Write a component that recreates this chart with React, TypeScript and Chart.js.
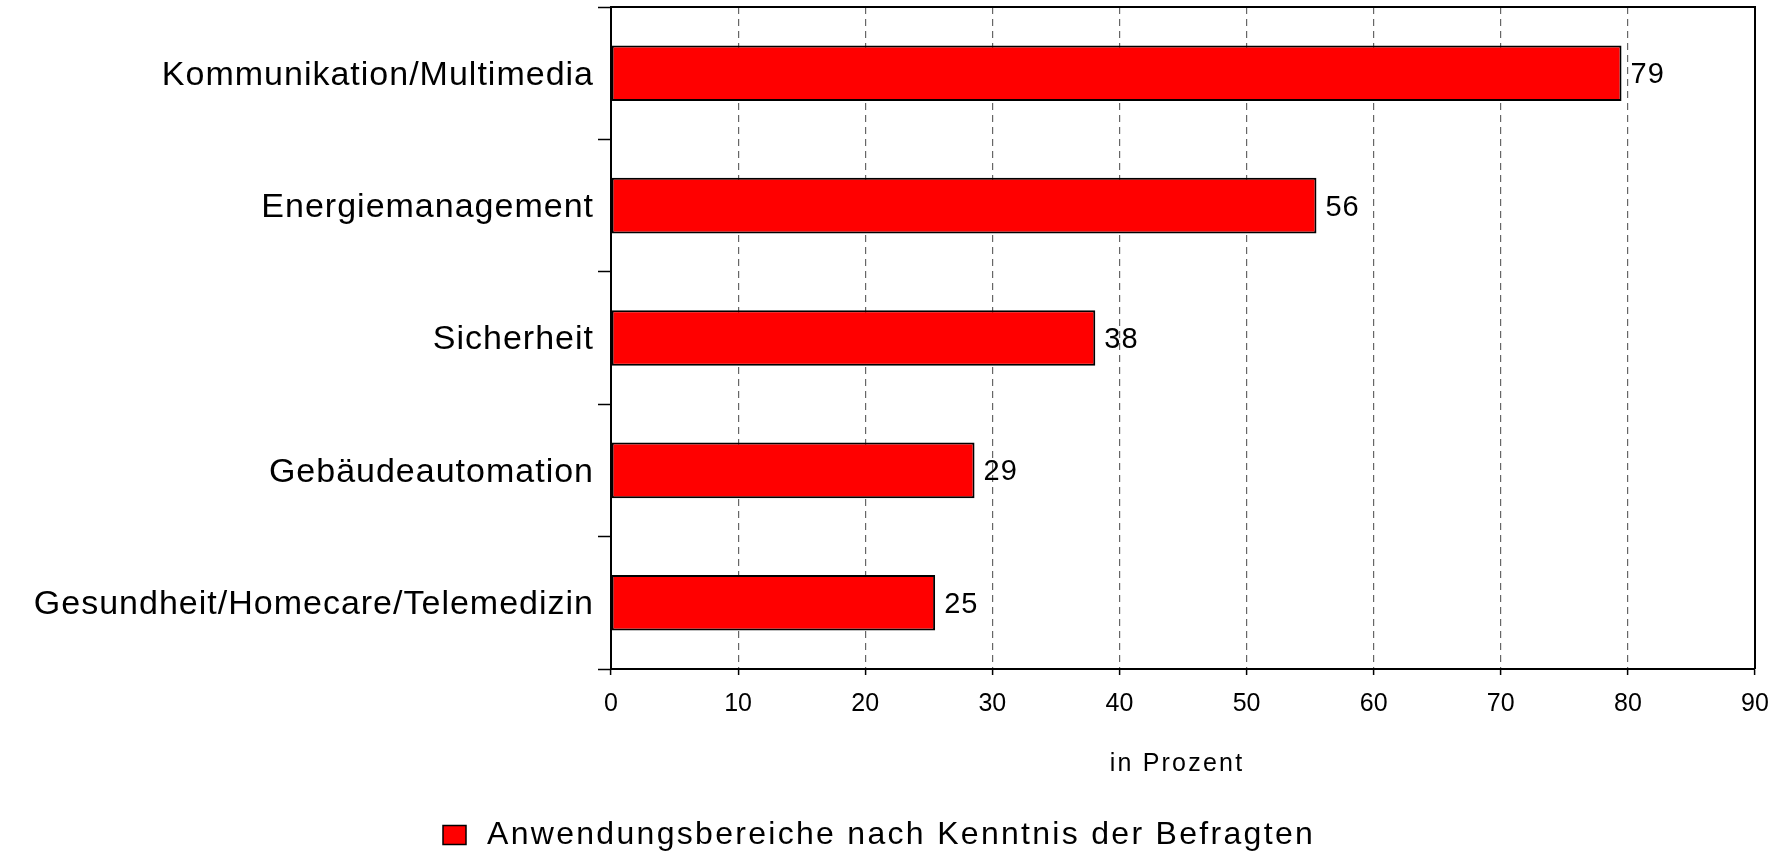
import React, { useEffect, useRef } from "react";
import { Chart, registerables } from "chart.js";

Chart.register(...registerables);

const categories = [
  "Kommunikation/Multimedia",
  "Energiemanagement",
  "Sicherheit",
  "Gebäudeautomation",
  "Gesundheit/Homecare/Telemedizin",
];
const barValues = [79.5, 55.5, 38.1, 28.6, 25.5];
const valueLabels = ["79", "56", "38", "29", "25"];
const xTickValues = [0, 10, 20, 30, 40, 50, 60, 70, 80, 90];
const seriesLabel = "Anwendungsbereiche nach Kenntnis der Befragten";
const axisTitle = "in Prozent";

const FONT = '"Liberation Sans", Arial, Helvetica, sans-serif';

const textPlugin = {
  id: "textPlugin",
  afterDatasetsDraw(chart: any) {
    const ctx = chart.ctx;
    const meta = chart.getDatasetMeta(0);
    ctx.save();
    ctx.font = `29px ${FONT}`;
    (ctx as any).letterSpacing = "1px";
    ctx.fillStyle = "#000";
    ctx.textAlign = "left";
    ctx.textBaseline = "middle";
    meta.data.forEach((bar: any, i: number) => {
      ctx.fillText(valueLabels[i], bar.x + 9, bar.y + 2);
    });
    ctx.restore();
  },
  afterDraw(chart: any) {
    const ctx = chart.ctx;
    const { left, right, top, bottom } = chart.chartArea;
    ctx.save();
    // frame top & right
    ctx.strokeStyle = "#000";
    ctx.lineWidth = 2;
    ctx.beginPath();
    ctx.moveTo(left, top);
    ctx.lineTo(right, top);
    ctx.lineTo(right, bottom);
    ctx.stroke();

    // category labels
    const yScale = chart.scales.y;
    ctx.font = `34px ${FONT}`;
    (ctx as any).letterSpacing = "1px";
    ctx.fillStyle = "#000";
    ctx.textAlign = "right";
    ctx.textBaseline = "middle";
    categories.forEach((c, i) => {
      ctx.fillText(c, left - 17, yScale.getPixelForTick(i) + 2);
    });

    // axis title
    ctx.font = `25px ${FONT}`;
    (ctx as any).letterSpacing = "2.2px";
    ctx.textAlign = "center";
    ctx.fillText(axisTitle, (left + right) / 2 - 6, bottom + 95);

    // legend
    const lx = 443;
    const ly = chart.height - 17;
    ctx.fillStyle = "#ff0000";
    ctx.fillRect(lx, ly - 9.5, 23, 19);
    ctx.lineWidth = 1.5;
    ctx.strokeStyle = "#000";
    ctx.strokeRect(lx, ly - 9.5, 23, 19);
    ctx.fillStyle = "#000";
    ctx.font = `32px ${FONT}`;
    (ctx as any).letterSpacing = "2.3px";
    ctx.textAlign = "left";
    ctx.fillText(chart.data.datasets[0].label, 487, ly);
    ctx.restore();
  },
};

export default function App() {
  const canvasRef = useRef<HTMLCanvasElement | null>(null);

  useEffect(() => {
    if (!canvasRef.current) return;
    const chart = new Chart(canvasRef.current, {
      type: "bar",
      data: {
        labels: categories,
        datasets: [
          {
            label: seriesLabel,
            data: barValues,
            backgroundColor: "#ff0000",
            borderColor: "#000000",
            borderWidth: 2,
            borderSkipped: false,
            barPercentage: 0.42,
            categoryPercentage: 1,
          },
        ],
      },
      options: {
        indexAxis: "y",
        animation: false,
        responsive: true,
        maintainAspectRatio: false,
        layout: { padding: { top: 7, right: 32, left: 0, bottom: 0 } },
        plugins: {
          legend: { display: false },
          tooltip: { enabled: false },
        },
        scales: {
          x: {
            type: "linear",
            min: xTickValues[0],
            max: xTickValues[xTickValues.length - 1],
            afterBuildTicks: (scale: any) => {
              scale.ticks = xTickValues.map((v) => ({ value: v }));
            },
            afterFit: (scale: any) => {
              scale.height = 183;
            },
            ticks: {
              color: "#000",
              font: { family: FONT, size: 25 },
              padding: 14,
              maxRotation: 0,
            },
            grid: {
              color: (c: any) =>
                c.tick && (c.tick.value === 0 || c.tick.value === 90)
                  ? "rgba(0,0,0,0)"
                  : "#666666",
              lineWidth: 1.2,
              tickColor: "#000",
              tickLength: 6,
              tickWidth: 1.5,
              tickBorderDash: [],
            },
            border: { display: true, color: "#000", width: 2, dash: [7, 5] },
          },
          y: {
            type: "category",
            offset: true,
            afterFit: (scale: any) => {
              scale.width = 611;
            },
            ticks: { display: false },
            grid: {
              offset: true,
              drawOnChartArea: false,
              drawTicks: true,
              tickLength: 13,
              tickColor: "#000",
              tickWidth: 1.5,
              color: "#000",
            },
            border: { display: true, color: "#000", width: 2 },
          },
        },
      },
      plugins: [textPlugin],
    } as any);
    return () => chart.destroy();
  }, []);

  return (
    <div
      style={{
        position: "fixed",
        left: 0,
        top: 0,
        width: 1787,
        height: 852,
        background: "#fff",
      }}
    >
      <canvas ref={canvasRef} />
    </div>
  );
}
